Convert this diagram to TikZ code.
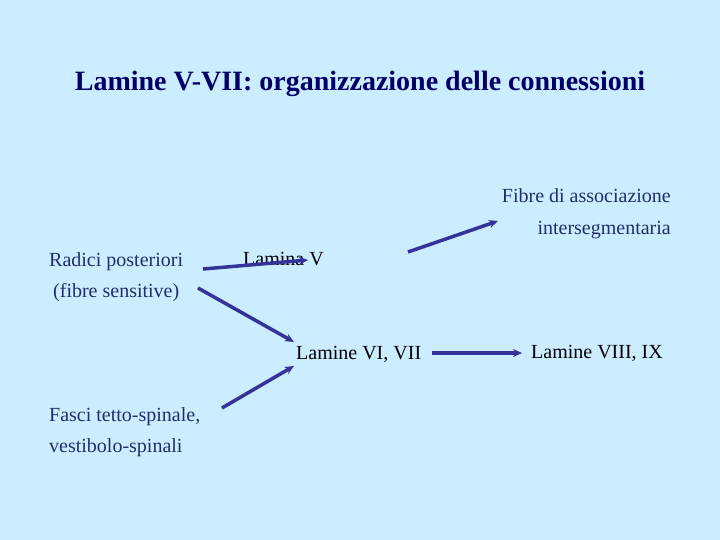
\documentclass[tikz,border=0pt]{standalone}
\usepackage{fontspec}
\setmainfont{Liberation Serif}
\usetikzlibrary{arrows.meta}
\definecolor{SkyBg}{HTML}{CCECFF}
\definecolor{DNavy}{HTML}{000066}
\definecolor{LinkBlue}{HTML}{333399}
\definecolor{TxtBlue}{HTML}{1F2F6B}
\tikzset{
    link/.style={LinkBlue, line width=3.5pt, -{Stealth[length=9pt, width=8pt]}},
    lbl/.style={font=\fontsize{20}{24}\selectfont, inner sep=0pt, anchor=base west},
}
\newcommand{\Frame}{
\fill[SkyBg] (0,0) rectangle (720,540);
\useasboundingbox (0,0) rectangle (720,540);

% ends of the connectors
\coordinate (radici-a) at (203,269);
\coordinate (lamV-in) at (308,260);
\coordinate (radici-b) at (198,288);
\coordinate (lamVI-top) at (294,342);
\coordinate (fasci-out) at (222,408);
\coordinate (lamVI-bot) at (294,366);
\coordinate (lamV-out) at (408,252);
\coordinate (fibre-in) at (498,221);
\coordinate (lamVI-out) at (432,353);
\coordinate (lamVIII-in) at (522,353);
}
\begin{document}
\begin{tikzpicture}[x=1pt, y=-1pt]
\Frame
\node[anchor=base, inner sep=0pt, text=DNavy, font=\fontsize{28}{32}\selectfont\bfseries] (title) at (360,91) {Lamine V-VII: organizzazione delle connessioni};

\node[lbl, text=TxtBlue] (radici) at (49,266) {Radici posteriori};
\node[lbl, text=TxtBlue] (sensitive) at (53,297) {(fibre sensitive)};
\node[lbl, text=TxtBlue] (fasci) at (49,421) {Fasci tetto-spinale,};
\node[lbl, text=TxtBlue] (vestibolo) at (49,452) {vestibolo-spinali};
\node[lbl, text=TxtBlue, anchor=base east] (fibre) at (671,203) {Fibre di associazione};
\node[lbl, text=TxtBlue, anchor=base east] (interseg) at (671,234) {intersegmentaria};

\node[lbl] (lamV) at (243,265) {Lamina V};
\node[lbl] (lamVI) at (296,359) {Lamine VI, VII};
\node[lbl] (lamVIII) at (531,358) {Lamine VIII, IX};

\draw[link] (radici-a) -- (lamV-in);
\draw[link] (radici-b) -- (lamVI-top);
\draw[link] (fasci-out) -- (lamVI-bot);
\draw[link] (lamV-out) -- (fibre-in);
\draw[link] (lamVI-out) -- (lamVIII-in);
\end{tikzpicture}
\end{document}
